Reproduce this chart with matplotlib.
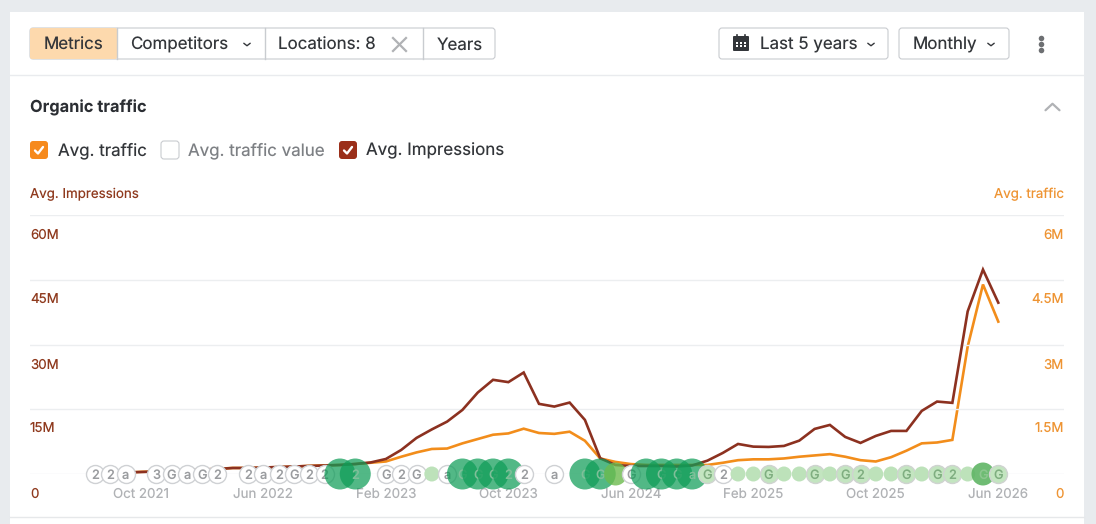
import matplotlib
matplotlib.use("Agg")
import matplotlib.pyplot as plt
import numpy as np
from matplotlib.patches import FancyBboxPatch, Rectangle
from matplotlib.transforms import ScaledTranslation

plt.rcParams['font.family'] = ['Inter', 'DejaVu Sans']
plt.rcParams['text.hinting'] = 'none'
plt.rcParams['text.hinting_factor'] = 1

# monthly series, Jul 2021 to Jun 2026
impressions = [0.23, 0.23, 0.35, 0.46, 0.58, 0.70, 0.93, 1.04, 1.16, 1.39,
               1.39, 1.51, 1.62, 1.74, 1.86, 1.97, 2.09, 2.32, 2.67, 3.48,
               5.57, 8.36, 10.33, 12.14, 14.85, 18.87, 21.82, 21.28, 23.51, 16.25,
               15.62, 16.55, 12.53, 3.64, 2.09, 1.86, 1.86, 1.86, 1.74, 1.97,
               3.09, 4.87, 6.96, 6.34, 6.27, 6.50, 7.73, 10.44, 11.37, 8.59,
               7.20, 8.82, 9.98, 9.98, 14.62, 16.78, 16.48, 37.67, 47.35, 39.69]
traffic = [0.02, 0.02, 0.03, 0.05, 0.06, 0.07, 0.09, 0.10, 0.12, 0.14,
           0.14, 0.15, 0.16, 0.17, 0.19, 0.20, 0.21, 0.23, 0.26, 0.29,
           0.40, 0.50, 0.58, 0.59, 0.71, 0.81, 0.91, 0.94, 1.05, 0.95,
           0.93, 0.98, 0.77, 0.36, 0.28, 0.23, 0.21, 0.21, 0.21, 0.21,
           0.21, 0.26, 0.32, 0.34, 0.34, 0.36, 0.40, 0.43, 0.46, 0.40,
           0.32, 0.29, 0.39, 0.54, 0.71, 0.73, 0.79, 2.95, 4.39, 3.53]

x_tick_months = [3, 11, 19, 27, 35, 43, 51, 59]
x_tick_labels = ['Oct 2021', 'Jun 2022', 'Feb 2023', 'Oct 2023',
                 'Jun 2024', 'Feb 2025', 'Oct 2025', 'Jun 2026']
imp_ticks = [0, 15, 30, 45, 60]
imp_tick_labels = ['0', '15M', '30M', '45M', '60M']
traffic_ticks = [0, 1.5, 3, 4.5, 6]
traffic_tick_labels = ['0', '1.5M', '3M', '4.5M', '6M']

# timeline events along the baseline
event_months = [0, 1, 2, 4, 5, 6, 7, 8, 10, 11, 12, 13, 14, 15, 16, 17, 19, 20, 21, 22,
                23, 24, 25, 26, 27, 28, 30, 32, 33, 34, 35, 36, 37, 38, 39, 40, 41,
                42, 43, 44, 45, 46, 47, 48, 49, 50, 51, 52, 53, 54, 55, 56, 57, 58, 59]
event_labels = ['2', '2', 'a', '3', 'G', 'a', 'G', '2', '2', 'a', '2', 'G', '2', '2', '', '2',
                'G', '2', 'G', '', 'a', 'G', 'G', 'G', '2', '2', 'a', 'G', 'G', '', 'G',
                '', 'G', 'G', 'a', 'G', '2', '', '', 'G', '', '', 'G', '', 'G', '2',
                '', '', 'G', '', 'G', '2', '', 'G', 'G']
event_kinds = ['white'] * 14 + ['big', 'big'] + ['white'] * 3 + ['dot', 'white'] \
    + ['big'] * 4 + ['white', 'white', 'big', 'big', 'olive', 'white'] + ['big'] * 4 \
    + ['ring', 'white', 'dot', 'dot', 'ring', 'dot', 'dot', 'ring', 'dot', 'ring', 'ring',
       'dot', 'dot', 'ring', 'dot', 'ring', 'ring', 'dot', 'mid', 'ring']

kind_styles = {
    'white': dict(d=18, fc='white', ec='#cfd1d4', lw=1.0, alpha=1.0, tc='#9a9c9f'),
    'big': dict(d=31, fc='#0f9d58', ec='none', lw=0, alpha=0.72, tc='#7fbf99'),
    'olive': dict(d=23, fc='#6cbb4e', ec='none', lw=0, alpha=0.8, tc='#7fbf99'),
    'mid': dict(d=23, fc='#5fb565', ec='none', lw=0, alpha=0.9, tc='#8cc78f'),
    'dot': dict(d=15, fc='#bde2ba', ec='none', lw=0, alpha=1.0, tc='#8fc48f'),
    'ring': dict(d=18, fc='#c3e5c0', ec='#cfd3d0', lw=1.0, alpha=1.0, tc='#7fae80'),
}

DARK = '#33363a'
BORDER = '#c9ccd0'
ORANGE = '#f28d1b'
RUST = '#8c3120'
UI_SIZE = 12.2
SMALL_SIZE = 9.6

fig = plt.figure(figsize=(10.96, 5.24), dpi=100, facecolor='#e8ebee')


def px_rect(left, top, right, bottom):
    return [left / 1096, 1 - bottom / 524, (right - left) / 1096, (bottom - top) / 524]


ui = fig.add_axes([0, 0, 1, 1], zorder=0)
ui.set_xlim(0, 1096)
ui.set_ylim(524, 0)
ui.axis('off')


def button(x0, x1, y0=28, y1=59, fc='white'):
    ui.add_patch(FancyBboxPatch((x0 + 2, y0 + 2), x1 - x0 - 4, y1 - y0 - 4,
                                boxstyle='round,pad=2,rounding_size=3',
                                fc=fc, ec=BORDER, lw=0.8))


def chevron(x, y, w=3.2, h=2.5, color=DARK, lw=1.0):
    ui.plot([x - w, x, x + w], [y - h / 2, y + h / 2, y - h / 2], color=color, lw=lw,
            solid_capstyle='round')


def checkbox(x, y, color):
    ui.add_patch(FancyBboxPatch((x + 2, y + 2), 14, 14, boxstyle='round,pad=2,rounding_size=3',
                                fc=color, ec='none'))
    ui.plot([x + 5, x + 8, x + 13], [y + 9.5, y + 12.5, y + 6], color='white', lw=1.7,
            solid_capstyle='round')


def label(x, y, text, color=DARK, size=UI_SIZE, **kw):
    ui.text(x, y + 1, text, fontsize=size, color=color, va='center', **kw)


# card
ui.add_patch(Rectangle((10, 12), 1074, 512, fc='white', ec='none'))
ui.plot([10, 1084], [75, 75], color='#e9ebee', lw=1)
ui.plot([10, 1084], [517, 517], color='#e6e8ea', lw=1)

# toolbar
button(30, 495)
ui.add_patch(FancyBboxPatch((32, 30), 83, 27, boxstyle='round,pad=2,rounding_size=2',
                            fc='#fdd9ad', ec='none'))
for x in [117, 265, 423]:
    ui.plot([x, x], [28, 59], color=BORDER, lw=1)
label(44, 44, 'Metrics')
label(130, 44, 'Competitors')
chevron(247, 44.5)
label(278, 44, 'Locations: 8')
ui.plot([393, 406], [38, 51], color='#b0b2b5', lw=1.6)
ui.plot([393, 406], [51, 38], color='#b0b2b5', lw=1.6)
label(437, 44, 'Years')

button(719, 888)
ui.add_patch(FancyBboxPatch((734, 37), 14, 13, boxstyle='round,pad=1,rounding_size=1',
                            fc='#33363a', ec='none'))
ui.plot([737, 737], [35, 38], color='#33363a', lw=1.2)
ui.plot([745, 745], [35, 38], color='#33363a', lw=1.2)
for cx in [737, 741, 745]:
    ui.add_patch(Rectangle((cx - 1, 41.5), 2, 2, fc='white', ec='none'))
    ui.add_patch(Rectangle((cx - 1, 45), 2, 2, fc='white', ec='none'))
label(760, 44, 'Last 5 years')
chevron(871, 44.5)
button(899, 1009)
label(913, 44, 'Monthly')
chevron(991, 44.5)
ui.scatter([1041, 1041, 1041], [38, 44, 50], s=16, color='#6d6f72', linewidths=0)

# section header and metric toggles
label(30, 107, 'Organic traffic', color='#2b2e33', size=11.8, fontweight='bold')
chevron(1052.5, 107, w=7, h=-6.5, color='#b0b2b5', lw=1.6)
checkbox(30, 141, '#f68a1d')
label(58, 150, 'Avg. traffic')
ui.add_patch(FancyBboxPatch((163, 143), 14, 14, boxstyle='round,pad=2,rounding_size=3',
                            fc='white', ec=BORDER, lw=0.8))
label(188, 150, 'Avg. traffic value', color='#7d8084')
checkbox(339, 141, '#9b2f1a')
label(366, 150, 'Avg. Impressions')

label(30, 193, 'Avg. Impressions', color='#8f3a1e', size=SMALL_SIZE)
label(1064, 193, 'Avg. traffic', color='#ee9433', size=SMALL_SIZE, ha='right')

# chart: one month is 15.31 px, first month sits at x=95
ax = fig.add_axes(px_rect(30, 215, 1064, 474), zorder=2)
ax2 = ax.twinx()
ax2.set_zorder(1)
ax.patch.set_visible(False)
ax2.patch.set_visible(False)
months = np.arange(len(impressions))
ax.set_xlim((30 - 95) / 15.31, (1064 - 95) / 15.31)
ax.set_ylim(0, 60)
ax2.set_ylim(0, 6)

ax.plot(months, impressions, color=RUST, lw=1.9, zorder=3, solid_joinstyle='miter')
ax2.plot(months, traffic, color=ORANGE, lw=1.9, solid_joinstyle='miter')

for a in [ax, ax2]:
    for s in a.spines.values():
        s.set_visible(False)

ax.set_yticks(imp_ticks)
ax.set_yticklabels(imp_tick_labels)
ax2.set_yticks(traffic_ticks)
ax2.set_yticklabels(traffic_tick_labels)
ax.grid(axis='y', color='#eceef0', lw=1)
ax.set_axisbelow(True)
ax.tick_params(axis='y', length=0, pad=0, labelsize=SMALL_SIZE, labelcolor='#8f3a1e')
ax2.tick_params(axis='y', length=0, pad=0, labelsize=SMALL_SIZE, labelcolor='#ee9433')

# y labels hang under their gridlines, inside the plot area
drop = ScaledTranslation(0, -19 / 100, fig.dpi_scale_trans)
for tick_label in ax.get_yticklabels():
    tick_label.set_ha('left')
    tick_label.set_transform(tick_label.get_transform() + drop)
for tick_label in ax2.get_yticklabels():
    tick_label.set_ha('right')
    tick_label.set_transform(tick_label.get_transform() + drop)

ax.set_xticks(x_tick_months)
ax.set_xticklabels(x_tick_labels)
ax.tick_params(axis='x', length=0, pad=10, labelsize=SMALL_SIZE, labelcolor='#b0b2b5')

# later events overlap earlier ones
for i, (m, lab, kind) in enumerate(zip(event_months, event_labels, event_kinds)):
    st = kind_styles[kind]
    z = 10 + i
    ax.scatter([m], [0], s=(st['d'] * 0.72) ** 2, color=st['fc'], edgecolors=st['ec'],
               linewidths=st['lw'], alpha=st['alpha'], clip_on=False, zorder=z)
    if lab:
        ax.text(m, 0, lab, fontsize=9.2, color=st['tc'], ha='center', va='center_baseline',
                fontweight='medium', zorder=z + 0.5, clip_on=False)

fig.savefig('out.png', dpi=100, facecolor=fig.get_facecolor())
